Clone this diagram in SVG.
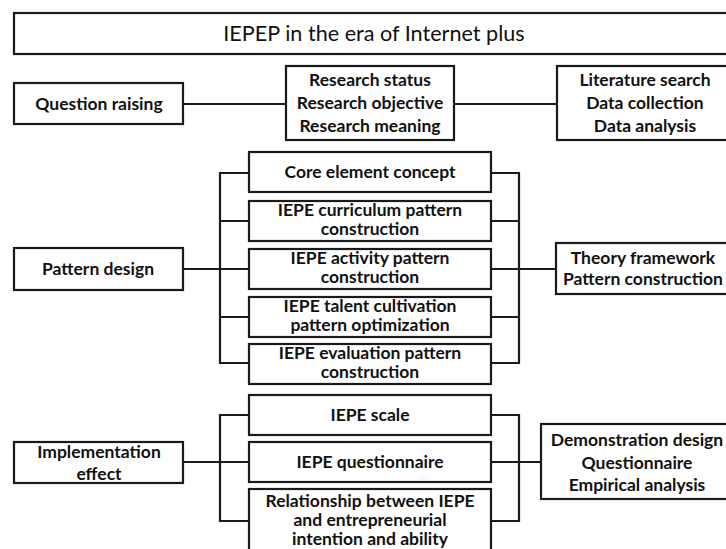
<svg xmlns="http://www.w3.org/2000/svg" width="726" height="549" viewBox="0 0 726 549">
<style>
.box{fill:#fff;stroke:#1a1a1a;stroke-width:2.2}
.c{fill:none;stroke:#1a1a1a;stroke-width:2.2}
text{font-family:Lato,"Open Sans","Liberation Sans",sans-serif;font-weight:bold;font-size:17.5px;fill:#111;text-anchor:middle}
.t{font-size:21.6px;font-weight:normal;font-family:Lato,"Open Sans","Liberation Sans",sans-serif}
</style>
<rect width="726" height="549" fill="#fff"/>
<g id="connectors">
<line class="c" x1="183" y1="104" x2="286" y2="104"/>
<line class="c" x1="454" y1="104" x2="557" y2="104"/>
<path class="c" d="M183 269H249M249 173H220V363H249M220 221H249M220 317H249"/>
<path class="c" d="M491 173H519V363H491M491 221H519M491 269H556M491 317H519"/>
<path class="c" d="M183 462H249M249 415H220V521H249"/>
<path class="c" d="M491 415H519V521H491M491 462H541"/>
</g>
<g id="title"><rect class="box" x="14" y="13" width="730" height="41"/><text class="t" x="374" y="41">IEPEP in the era of Internet plus</text></g>
<g id="question"><rect class="box" x="14" y="83" width="169" height="41"/><text x="99" y="110">Question raising</text></g>
<g id="research"><rect class="box" x="286" y="66" width="168" height="74"/><text x="370" y="86">Research status</text><text x="370" y="109">Research objective</text><text x="370" y="132">Research meaning</text></g>
<g id="literature"><rect class="box" x="557" y="66" width="190" height="74"/><text x="645" y="86">Literature search</text><text x="645" y="109">Data collection</text><text x="645" y="132">Data analysis</text></g>
<g id="pattern"><rect class="box" x="14" y="248" width="169" height="42"/><text x="98" y="275">Pattern design</text></g>
<g id="core"><rect class="box" x="249" y="152" width="242" height="40"/><text x="370" y="178">Core element concept</text></g>
<g id="curriculum"><rect class="box" x="249" y="201" width="242" height="40"/><text x="370" y="216">IEPE curriculum pattern</text><text x="370" y="235">construction</text></g>
<g id="activity"><rect class="box" x="249" y="249" width="242" height="40"/><text x="370" y="264">IEPE activity pattern</text><text x="370" y="283">construction</text></g>
<g id="talent"><rect class="box" x="249" y="297" width="242" height="40"/><text x="370" y="312">IEPE talent cultivation</text><text x="370" y="331">pattern optimization</text></g>
<g id="evaluation"><rect class="box" x="249" y="344" width="242" height="40"/><text x="370" y="359">IEPE evaluation pattern</text><text x="370" y="378">construction</text></g>
<g id="theory"><rect class="box" x="556" y="243" width="190" height="51"/><text x="643" y="264">Theory framework</text><text x="643" y="285">Pattern construction</text></g>
<g id="implementation"><rect class="box" x="14" y="442" width="169" height="41"/><text x="99" y="458">Implementation</text><text x="99" y="480">effect</text></g>
<g id="scale"><rect class="box" x="249" y="395" width="242" height="40"/><text x="370" y="421">IEPE scale</text></g>
<g id="questionnaire"><rect class="box" x="249" y="442" width="242" height="40"/><text x="370" y="468">IEPE questionnaire</text></g>
<g id="relationship"><rect class="box" x="249" y="489" width="242" height="70"/><text x="370" y="507">Relationship between IEPE</text><text x="370" y="526">and entrepreneurial</text><text x="370" y="545">intention and ability</text></g>
<g id="demonstration"><rect class="box" x="541" y="424" width="200" height="75"/><text x="637" y="446">Demonstration design</text><text x="637" y="469">Questionnaire</text><text x="637" y="491">Empirical analysis</text></g>
</svg>
